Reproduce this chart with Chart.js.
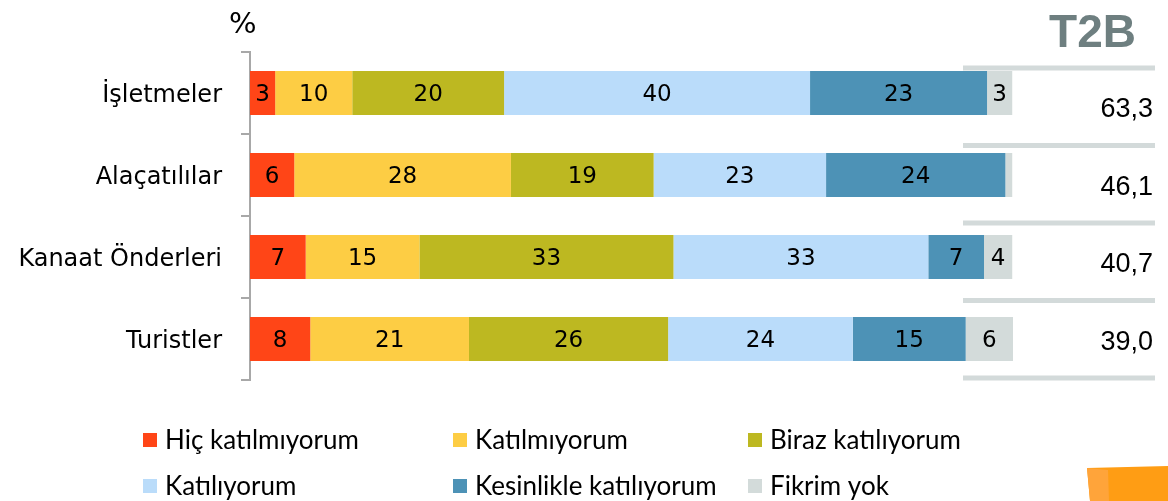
<!DOCTYPE html>
<html>
<head>
<meta charset="utf-8">
<script src="https://cdn.jsdelivr.net/npm/chart.js@4"></script>
<style>
html,body{margin:0;padding:0;background:#fff;}
#wrap{position:relative;width:1168px;height:501px;}
</style>
</head>
<body>
<div id="wrap"><canvas id="c" width="1168" height="501"></canvas></div>
<script>
const categories = ['İşletmeler', 'Alaçatılılar', 'Kanaat Önderleri', 'Turistler'];
const seriesNames = ['Hiç katılmıyorum', 'Katılmıyorum', 'Biraz katılıyorum', 'Katılıyorum', 'Kesinlikle katılıyorum', 'Fikrim yok'];
const seriesColors = ['#FF4517', '#FDCD44', '#BDB821', '#BADCFA', '#4D92B6', '#D3DBDA'];
const hicKatilmiyorum = [3.3, 5.8, 7.3, 7.9];
const katilmiyorum = [10.1, 28.4, 14.9, 20.8];
const birazKatiliyorum = [19.9, 18.7, 33.3, 26.1];
const katiliyorum = [40.1, 22.6, 33.4, 24.2];
const kesinlikleKatiliyorum = [23.2, 23.5, 7.3, 14.8];
const fikrimYok = [3.3, 0.9, 3.7, 6.2];
const t2b = [63.3, 46.1, 40.7, 39.0];

const seriesValues = [hicKatilmiyorum, katilmiyorum, birazKatiliyorum, katiliyorum, kesinlikleKatiliyorum, fikrimYok];

const datasets = seriesNames.map((n, i) => ({
  label: n,
  data: seriesValues[i],
  backgroundColor: seriesColors[i],
  borderWidth: 0,
  barPercentage: 0.537,
  categoryPercentage: 1.0
}));

const extras = {
  id: 'extras',
  afterDatasetsDraw(chart) {
    const ctx = chart.ctx;
    ctx.save();
    ctx.font = '23px "DejaVu Sans"';
    ctx.fillStyle = '#000';
    ctx.textAlign = 'center';
    ctx.textBaseline = 'middle';
    chart.data.datasets.forEach((ds, di) => {
      const meta = chart.getDatasetMeta(di);
      meta.data.forEach((el, i) => {
        const v = ds.data[i];
        if (v < 2) return;
        const cx = (el.x + el.base) / 2;
        ctx.fillText(String(Math.round(v)), cx, el.y + 2);
      });
    });
    ctx.restore();
  },
  afterDraw(chart) {
    const ctx = chart.ctx;
    ctx.save();
    ctx.font = '29px "DejaVu Sans"';
    ctx.fillStyle = '#000';
    ctx.textAlign = 'left';
    ctx.textBaseline = 'alphabetic';
    ctx.fillText('%', 229, 33);
    ctx.font = 'bold 46px "Liberation Sans"';
    ctx.fillStyle = '#6E7F80';
    ctx.textAlign = 'right';
    ctx.fillText('T2B', 1136, 47);
    const top = 68, step = 77.5;
    ctx.fillStyle = '#D3DADA';
    for (let i = 0; i <= t2b.length; i++) {
      ctx.fillRect(963, top + i * step - 2.5, 192, 5);
    }
    ctx.font = '27px "Liberation Sans"';
    ctx.fillStyle = '#000';
    ctx.textAlign = 'right';
    ctx.textBaseline = 'middle';
    t2b.forEach((v, i) => {
      ctx.fillText(v.toFixed(1).replace('.', ','), 1153, top + (i + 0.5) * step + 3);
    });
    const cols = [143, 453, 748];
    const rows = [440, 486];
    ctx.font = '26px Lato';
    ctx.textAlign = 'left';
    ctx.textBaseline = 'middle';
    seriesNames.forEach((n, i) => {
      const x = cols[i % 3], y = rows[Math.floor(i / 3)];
      ctx.fillStyle = seriesColors[i];
      ctx.fillRect(x, y - 7, 14, 14);
      ctx.fillStyle = '#000';
      ctx.fillText(n, x + 22, y + 1);
    });
    ctx.fillStyle = '#FF9D14';
    ctx.beginPath();
    ctx.moveTo(1087, 468);
    ctx.lineTo(1168, 466);
    ctx.lineTo(1168, 501);
    ctx.lineTo(1090, 501);
    ctx.closePath();
    ctx.fill();
    ctx.fillStyle = '#FFA43A';
    ctx.beginPath();
    ctx.moveTo(1087, 468);
    ctx.lineTo(1108, 470);
    ctx.lineTo(1109, 501);
    ctx.lineTo(1090, 501);
    ctx.closePath();
    ctx.fill();
    ctx.restore();
  }
};

new Chart(document.getElementById('c'), {
  type: 'bar',
  data: { labels: categories, datasets },
  options: {
    indexAxis: 'y',
    responsive: false,
    animation: false,
    events: [],
    layout: { padding: { left: 0, right: 155, top: 52, bottom: 121 } },
    plugins: {
      legend: { display: false },
      tooltip: { enabled: false },
      title: { display: false }
    },
    scales: {
      x: { stacked: true, display: false, min: 0, max: 100 },
      y: {
        stacked: true,
        afterFit(scale) { scale.width = 250; },
        grid: {
          display: true,
          drawOnChartArea: false,
          offset: true,
          tickLength: 9,
          color: '#A8A8A8',
          lineWidth: 2
        },
        border: { display: true, color: '#A8A8A8', width: 2 },
        ticks: {
          font: { family: 'DejaVu Sans', size: 24 },
          color: '#000',
          padding: 19,
          labelOffset: 3
        }
      }
    }
  },
  plugins: [extras]
});
</script>
</body>
</html>
